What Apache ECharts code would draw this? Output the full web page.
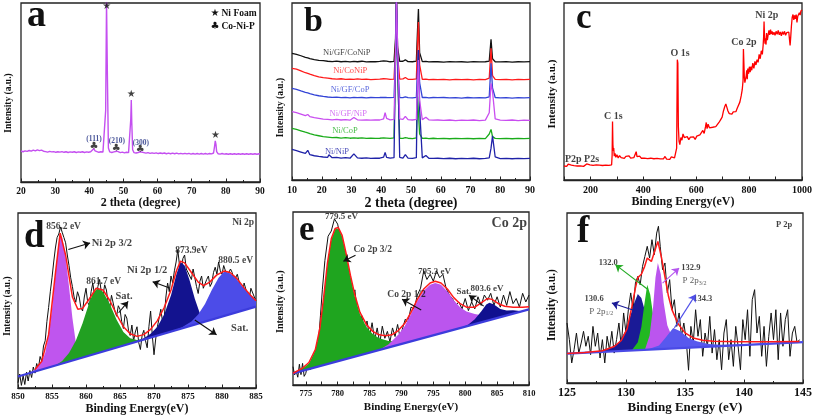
<!DOCTYPE html>
<html><head><meta charset="utf-8">
<script src="https://cdn.jsdelivr.net/npm/echarts@6/dist/echarts.min.js"></script>
<style>html,body{margin:0;padding:0;background:#fff}#c{width:813px;height:417px}</style>
</head><body><div id="c"></div>
<script>
// ================= DATA =================
// Panel a: XRD of Co-Ni-P on Ni foam
var aXrd = [[20,17.3],[20.6,16.9],[21.2,17.4],[21.8,17.1],[22.4,17.6],[23,17.2],[23.6,17.8],[24.2,17.4],[24.8,17.9],[25.4,17.5],[26,17.8],[26.6,17.2],[27.2,17.0],[27.8,16.7],[28.4,17.1],[29,16.8],[29.6,17.0],[30.2,16.6],[30.8,16.9],[31.4,16.7],[32,17.0],[32.6,16.6],[33.2,16.9],[33.8,16.5],[34.4,16.8],[35,16.6],[35.6,16.9],[36.2,16.5],[36.8,16.8],[37.4,16.6],[38,16.9],[38.6,16.5],[39.2,16.8],[39.8,16.6],[40.4,16.9],[40.9,17.3],[41.3,18.6],[41.7,17.4],[42.2,16.8],[42.8,16.6],[43.4,16.9],[44,16.7],[44.5,17.3],[44.8,40],[45.05,101],[45.3,60],[45.6,19],[46,16.8],[46.6,16.5],[47.2,16.8],[47.7,16.6],[48.1,17.2],[48.5,16.6],[49.1,16.4],[49.7,16.7],[50.3,16.3],[50.9,16.6],[51.5,16.4],[51.9,17.2],[52.15,35],[52.3,45.8],[52.45,33],[52.7,18],[53.1,16.4],[53.7,16.2],[54.3,16.5],[54.9,16.9],[55.4,16.2],[56,16.4],[56.6,16.1],[57.2,16.4],[57.8,16.0],[58.4,16.3],[59,16.0],[59.6,16.3],[60.2,15.9],[60.8,16.2],[61.4,15.9],[62,16.2],[62.6,15.8],[63.2,16.1],[63.8,15.8],[64.4,16.1],[65,15.8],[65.6,16.1],[66.2,15.7],[66.8,16.0],[67.4,15.7],[68,16.0],[68.6,15.7],[69.2,16.0],[69.8,15.6],[70.4,15.9],[71,15.6],[71.6,15.9],[72.2,15.6],[72.8,15.9],[73.4,15.6],[74,15.9],[74.6,15.6],[75.2,15.9],[75.8,15.7],[76.4,16.2],[76.7,20],[76.9,23],[77.1,21],[77.3,17],[77.7,15.8],[78.3,15.6],[78.9,15.9],[79.5,15.6],[80.1,15.8],[80.7,15.5],[81.3,15.8],[81.9,15.5],[82.5,15.8],[83.1,15.5],[83.7,15.8],[84.3,15.5],[84.9,15.8],[85.5,15.5],[86.1,15.8],[86.7,15.5],[87.3,15.8],[87.9,15.5],[88.5,15.8],[89.1,15.5],[89.7,15.8],[90,15.6]];
var aStars = [[45.1,98],[52.3,48.8],[76.95,26]];
var aClubs = [[41.4,19.8],[47.9,19.0],[54.9,18.0]];
var aPlanes = [[41.4,23.9,'(111)'],[48.1,22.9,'(210)'],[55.1,21.6,'(300)']];
var aLegend = ['Ni Foam','Co-Ni-P'];

// Panel b: six stacked XRD patterns (shared 2-theta grid)
var bTheta = [10,11.5,13,14.5,15.3,16,17.5,19,20.5,22,22.4,23.5,25,26.5,28,29.5,30.8,32,33.5,35,36.5,38,39.5,40.8,41.3,41.8,43,44.3,44.8,45.1,45.5,46.2,47.3,48.1,49,50.5,51.8,52.2,52.5,52.9,53.8,55,56,57.5,59,61,63,65,67,69,71,73,75,76.3,76.9,77.4,78.3,80,82,84,86,88,90];
var bNiGFCoNiP = [71.6,71.0,70.2,69.3,69.0,68.6,68.0,67.6,67.4,67.1,67.3,66.9,67.2,66.8,67.0,66.7,67.0,66.8,67.1,66.7,66.9,66.8,67.0,67.3,68.3,67.2,66.8,67.0,80,102,75,67.0,67.1,67.9,66.9,66.8,67.2,85,96.6,72,66.9,67.0,66.7,66.9,66.8,66.6,66.9,66.7,66.8,66.6,66.9,66.7,66.8,67.2,79.5,68.5,66.8,66.7,66.9,66.6,66.8,66.7,66.9];
var bNiCoNiP = [63.1,62.6,61.6,60.6,60.2,59.8,59.0,58.3,57.8,57.5,57.3,57.2,57.0,57.2,56.8,57.0,56.9,57.1,56.8,57.0,56.7,56.9,57.0,57.2,58.2,57.1,56.8,57.0,75,102,70,57.0,57.1,57.9,56.9,56.8,57.1,78,89.3,65,56.9,57.0,56.7,56.9,56.7,56.9,56.6,56.8,56.7,56.9,56.6,56.8,56.7,57.5,74.4,59,56.8,56.7,56.9,56.6,56.8,56.7,56.8];
var bNiGFCoP = [51.8,51.2,50.3,49.5,49.2,48.8,48.1,47.6,47.2,46.9,47.0,46.7,46.8,46.5,46.7,46.4,46.7,46.5,46.6,46.4,46.6,46.5,46.6,46.7,47.4,46.6,46.5,46.7,70,102,65,46.6,46.5,47.0,46.5,46.4,46.7,62,73.4,55,46.6,46.7,46.4,46.6,46.5,46.6,46.4,46.5,46.3,46.6,46.4,46.5,46.4,47.0,65.9,52,46.6,46.4,46.5,46.3,46.5,46.4,46.5];
var bNiGFNiP = [38.6,38.0,37.2,36.4,37.0,35.8,35.2,34.8,34.4,34.2,34.6,34.0,34.2,33.9,34.1,33.8,35.3,34.0,33.8,34.0,33.8,34.0,33.9,34.6,38.0,34.8,34.0,34.3,70,103,75,34.5,34.2,36.0,34.1,33.9,34.2,55,67.8,45,34.1,35.5,34.0,33.8,33.9,33.7,33.9,33.6,33.8,33.7,33.9,33.6,33.8,38,54.6,50,34.5,33.8,33.7,33.9,33.6,33.8,33.7];
var bNiCoP = [29.2,28.6,27.8,27.0,26.6,26.2,25.5,25.0,24.5,24.2,24.1,23.9,24.0,23.7,23.9,23.6,23.8,23.6,23.8,23.5,23.7,23.5,23.6,23.8,24.6,23.7,23.5,23.8,70,102,60,23.6,23.5,24.0,23.6,23.4,23.8,47.1,38,26,23.5,23.7,23.4,23.6,23.4,23.5,23.3,23.5,23.4,23.5,23.3,23.5,23.4,26,28.6,24.5,23.5,23.4,23.5,23.3,23.5,23.4,23.5];
var bNiNiP = [17.3,16.6,15.8,15.0,16.8,14.3,13.7,13.3,13.0,12.8,14.3,12.6,12.8,12.4,12.6,12.3,14.8,12.5,12.3,12.5,12.2,12.4,12.3,12.9,15.5,12.8,12.3,12.6,70,102,70,12.8,12.4,14.3,12.4,12.2,12.6,60,73.4,40,12.5,13.8,12.3,12.2,12.3,12.1,12.3,12.0,12.2,12.1,12.3,12.0,12.2,12.5,18,24.9,13,12.1,12.2,12.0,12.2,12.1,12.2];
var bNames = ['Ni/GF/CoNiP','Ni/CoNiP','Ni/GF/CoP','Ni/GF/NiP','Ni/CoP','Ni/NiP'];
var bLabelPos = [[28.4,71.9],[29.6,61.6],[29.5,50.8],[28.9,37.7],[27.8,27.9],[25.1,16.0]];

// Panel c: XPS survey
var cSurvey = [[100,7.9],[105,8.6],[110,7.7],[116,8.9],[122,7.8],[128,8.4],[133,9.3],[138,8.1],[144,8.7],[150,7.9],[156,8.5],[162,8.0],[168,8.8],[174,7.7],[180,8.4],[186,9.1],[192,8.0],[198,8.6],[204,7.8],[210,8.3],[216,7.6],[222,8.5],[228,7.9],[234,8.4],[240,7.6],[246,8.2],[252,7.8],[258,8.4],[264,7.7],[270,8.3],[276,7.9],[280,8.5],[282,14],[283.5,33],[285,20],[286.5,16.5],[288,18],[290,13.5],[293,15],[296,12.8],[300,14.2],[305,12.5],[310,13.8],[316,12.6],[322,13.5],[328,12.2],[334,13.4],[340,12.7],[346,13.6],[352,12.4],[358,13.3],[364,12.6],[370,13.4],[373,16],[376,13.2],[380,12.6],[386,13.5],[392,12.3],[398,13.1],[404,12.4],[410,13.3],[416,12.1],[422,13.0],[428,12.3],[434,13.2],[440,12.0],[446,12.9],[452,12.2],[458,13.1],[464,11.9],[470,12.8],[476,12.0],[482,13.3],[488,11.8],[494,12.6],[500,11.7],[506,13.0],[512,11.9],[518,12.5],[523,12.2],[526,18],[528.5,68],[530.5,66],[532.5,30],[535,22],[538,20],[542,24],[546,22.5],[550,26],[555,24],[560,23],[566,24.5],[572,22.8],[578,24.2],[584,23.2],[590,24.4],[596,22.9],[602,24.8],[608,24.2],[614,25.5],[620,26.5],[625,28],[630,26.3],[635,30],[638,32.5],[641,29],[645,31.5],[650,29.5],[656,30.5],[662,29.8],[668,30.6],[674,30.2],[680,31],[686,32.5],[692,34],[698,35.5],[703,39],[708,41.5],[712,43],[716,41],[720,39],[725,37.5],[730,38.6],[735,37.2],[740,38.5],[745,39.3],[750,38.6],[755,40.5],[760,41.5],[765,44],[770,47.5],[774,51],[777,56],[778.5,74],[780,73],[782,58],[784,55],[787,54],[789,59],[791,62],[793,57],[795,63],[798,60],[801,64],[804,61],[807,64],[810,62],[814,66],[818,63],[822,67],[826,65],[830,68],[834,66.5],[838,71],[842,68.5],[846,73],[850,71],[853,76],[855,81],[856.5,89.5],[858,82],[860,77],[862,80],[864,76.5],[866,83],[869,79],[872,82],[875,84.5],[878,82],[881,85],[884,82.5],[887,84],[890,82],[894,83.5],[898,81.8],[902,84],[906,82.3],[910,84.5],[914,82],[918,83.6],[922,81.5],[926,83.8],[930,82.2],[934,84],[938,81.8],[942,83.2],[946,82.5],[950,83.6],[953,79],[955,76],[957,80],[960,87],[963,92],[966,93.5],[969,90.5],[972,93],[975,91],[978,93.5],[981,89],[984,92.5],[987,93],[990,94.5],[993,93.2],[996,95.5],[1000,96]];
var cLabels = [[168,11.7,'P2p P2s'],[286.5,36.2,'C 1s'],[538.6,71.6,'O 1s'],[780.6,77.6,'Co 2p'],[866.6,92.7,'Ni 2p']];

// Panel d: Ni 2p
var dRaw = [[850,3],[850.25,8],[850.5,1.5],[850.75,7],[851,2],[851.25,9],[851.5,4],[851.75,10],[852,6],[852.25,12],[852.5,8.5],[852.75,14],[853,11],[853.25,18],[853.5,15],[853.75,24],[854,27],[854.25,38],[854.5,46],[854.75,55],[855,63],[855.25,72],[855.5,80],[855.75,86],[856,88],[856.25,92],[856.5,89],[856.75,86],[857,83],[857.25,76],[857.5,70],[857.75,63],[858,58],[858.25,52],[858.5,49],[858.75,55],[859,52],[859.25,46],[859.5,44],[859.75,52],[860,57],[860.25,49],[860.5,47],[860.75,55],[861,60],[861.25,53],[861.5,51],[861.75,58],[862,62],[862.25,55],[862.5,53],[862.75,59],[863,56],[863.25,49],[863.5,46],[863.75,53],[864,52],[864.25,44],[864.5,41],[864.75,47],[865,45],[865.25,38],[865.5,34],[865.75,42],[866,40],[866.25,33],[866.5,30],[866.75,36],[867,27],[867.25,32],[867.5,35],[867.75,26],[868,22],[868.25,30],[868.5,33],[868.75,27],[869,23],[869.25,35],[869.5,44],[869.75,30],[870,19],[870.25,28],[870.5,35],[870.75,40],[871,45],[871.25,38],[871.5,40],[871.75,52],[872,60],[872.25,55],[872.5,64],[872.75,60],[873,67],[873.25,72],[873.5,79],[873.75,70],[874,67],[874.25,74],[874.5,76],[874.75,68],[875,69],[875.25,64],[875.5,62],[875.75,68],[876,67],[876.25,58],[876.5,54],[876.75,61],[877,64],[877.25,57],[877.5,56],[877.75,62],[878,64],[878.25,58],[878.5,60],[878.75,66],[879,69],[879.25,65],[879.5,72],[879.75,67],[880,65],[880.25,70],[880.5,70],[880.75,64],[881,63],[881.25,68],[881.5,66],[881.75,61],[882,60],[882.25,65],[882.5,64],[882.75,57],[883,54],[883.25,60],[883.5,60],[883.75,53],[884,51],[884.25,57],[884.5,58],[884.75,52],[885,50]];
var dBaseline = [[850,6.6],[885,46.5]];
var dPeak856 = [[851.5,8.3],[852.5,10.5],[853.5,15],[854,20],[854.5,30],[855,45],[855.5,65],[856,83],[856.2,88],[856.5,86],[857,75],[857.5,58],[858,40],[858.5,26],[859,19.5],[859.5,17.4]];
var dPeak861 = [[855.5,12.9],[856.5,15.5],[857.5,20],[858.5,27],[859.5,37],[860.5,49],[861,54],[861.7,57],[862.5,55],[863.5,48],[864.5,39],[865.5,32],[866.5,28.5],[867.5,27.5],[868.5,28],[869,28.3]];
var dPeak874 = [[866.5,25.5],[867.5,26.8],[868.5,28.5],[869.5,31],[870.5,35],[871.5,42],[872.5,53],[873.3,65],[873.9,72],[874.5,70],[875.2,62],[876,51],[876.8,42],[877.5,39],[878.2,38.7]];
var dPeak880 = [[872.5,32.2],[874,34.5],[875.5,38],[876.5,42],[877.5,48],[878.5,56],[879.5,63],[880.3,66.5],[881,66],[882,63],[883,58],[884,54],[885,50.3],[885,46.5]];
var dFit = [[852.5,10.6],[853.5,15.3],[854.5,30.5],[855.5,65.5],[856.2,88.5],[857,76],[858,52],[858.8,45],[859.5,45.5],[860.5,51],[861.5,57],[862.5,56],[863.5,50],[864.5,42],[865.5,35],[866.5,31],[867.5,29.5],[868.5,30.5],[869.5,33.5],[870.5,38.5],[871.5,46],[872.5,56],[873.3,67],[873.9,72.5],[874.5,71.5],[875.5,66],[876.5,60.5],[877.3,58.5],[878.2,60.5],[879.2,64.5],[880.3,66.8],[881.2,66],[882.2,62.5],[883.2,57.5],[884.2,53],[885,49.8]];
var dLabels = [[856.7,92.4,'856.2 eV',9.5],[863.8,82.5,'Ni 2p 3/2',10.5],[862.6,61.1,'861.7 eV',9.5],[865.6,52.2,'Sat.',10.5],[869.0,67.0,'Ni 2p 1/2',10.5],[875.5,78.4,'873.9eV',9.5],[882.0,72.7,'880.5 eV',9.5],[882.6,34.2,'Sat.',10.5],[883.1,94.3,'Ni 2p',9.5]];
var dArrows = [[857.4,79.1,860.6,82.9],[864.8,43.0,866.2,49.5],[872.3,57.1,869.8,60.7],[876.0,38.9,879.2,30.4]];

// Panel e: Co 2p
var eRaw = [[773,10.6],[773.25,5.8],[773.5,8],[773.75,4.5],[774,12],[774.25,6],[774.5,12.5],[774.75,5],[775,6.7],[775.25,11],[775.5,12],[775.75,9],[776,15],[776.5,19],[777,25],[777.3,40],[777.6,55],[778,72],[778.5,86],[779,89],[779.5,96],[780,93],[780.5,84],[781,76],[781.5,68],[782,58],[782.3,49],[782.7,55],[783,44],[783.4,33],[783.8,40],[784.2,30],[784.6,37],[785,28],[785.4,36],[785.8,26],[786.2,33],[786.6,24],[787,34],[787.4,27],[787.8,31],[788.2,25],[788.6,33],[789,28],[789.4,35],[789.8,27],[790.2,33],[790.6,38],[791,36],[791.5,45],[792,44],[792.5,52],[793,56],[793.5,66],[794,61],[794.5,64],[795,60],[795.5,66],[796,62],[796.5,64],[797,56],[797.5,52],[798,50],[798.5,46],[799,48],[799.5,44],[800,50],[800.5,43],[801,48],[801.5,44],[802,51],[802.5,46],[803,52],[803.5,49],[804,53],[804.5,46],[805,51],[805.5,45],[806,52],[806.5,46],[807,54],[807.5,47],[808,50],[808.5,45],[809,53],[809.5,48],[810,52]];
var eBaseline = [[773,6.7],[810,43.7]];
var ePeak780 = [[773,6.7],[774.5,9.5],[775.5,12.5],[776.5,20],[777.2,32],[777.8,50],[778.4,70],[779,84],[779.6,90],[780.1,90.5],[780.7,86],[781.3,76],[782,63],[782.7,51],[783.5,41],[784.5,33.5],[785.5,29.5],[786.5,27],[788,25.5],[790,25.5],[792,26],[795,28.7]];
var ePeak795 = [[786.5,20.2],[788,23.5],[789.5,29],[790.5,34],[791.5,41],[792.5,48.5],[793.5,54.5],[794.5,58],[795.3,59],[796.2,58],[797.2,54],[798.2,49],[799.2,45],[800.2,42.5],[801.5,41],[803,40],[805,39.5],[806.5,40.2]];
var ePeak804 = [[799.5,33.2],[800.5,35],[801.5,38],[802.5,42.5],[803.3,46.5],[803.8,47.5],[804.5,46.5],[805.5,44],[806.5,43],[807.5,43.2],[809,42.7]];
var eFit = [[773,6.8],[774.5,9.8],[775.5,13],[776.5,20.5],[777.2,32.5],[777.8,50.5],[778.4,70.5],[779,84.5],[779.6,90.5],[780.1,91],[780.7,86.5],[781.3,76.5],[782,63.5],[782.7,52],[783.5,42],[784.5,35],[785.5,31],[786.5,29],[787.5,28.5],[788.5,29],[789.5,31.5],[790.5,35.5],[791.5,42],[792.5,49.5],[793.5,55.5],[794.5,59],[795.3,60],[796.2,59],[797.2,55.5],[798.2,50.5],[799.2,47],[800.2,45],[801.5,45],[802.5,47.5],[803.5,50],[804.2,49.5],[805.2,47],[806.2,45.5],[807.5,45],[809,45],[810,45.3]];
var eLabels = [[780.6,97.1,'779.5 eV',9],[806.9,93.3,'Co 2p',14],[785.5,78.5,'Co 2p 3/2',9.5],[795.2,65.4,'795.3 eV',9],[790.8,52.3,'Co 2p 1/2',9.5],[799.8,53.8,'Sat.',9],[803.4,55.8,'803.6 eV',9]];
var eArrows = [[782.8,75.0,780.9,71.5],[793.1,43.3,790.1,49.6],[802.9,45.6,800.6,51.9]];
var eTicks = [775,780,785,790,795,800,805,810];

// Panel f: P 2p
var fRaw = [[125,35.3],[125.2,25.5],[125.4,11.8],[125.6,19.6],[125.8,29.4],[126,17.6],[126.2,23.5],[126.4,30.4],[126.6,21.6],[126.8,27.5],[127,16.7],[127.2,33.3],[127.4,21.6],[127.6,29.4],[127.8,14.7],[128,25.5],[128.2,11.8],[128.4,27.5],[128.6,19.6],[128.8,30.4],[129,17.6],[129.2,25.5],[129.4,35.3],[129.6,21.6],[129.8,41.2],[130,29.4],[130.2,43.1],[130.4,53],[130.6,43.1],[130.8,58.8],[131,62.7],[131.2,57.8],[131.4,68.6],[131.6,74.5],[131.8,80.4],[132,73.5],[132.2,84.3],[132.4,75.5],[132.6,88.2],[132.75,92.2],[132.9,80.4],[133.1,66.7],[133.3,70.6],[133.5,53],[133.7,60.8],[133.9,43.1],[134.1,49],[134.3,33.3],[134.5,41.2],[134.7,27.5],[134.9,35.3],[135.1,25.5],[135.3,7.5],[135.5,33.3],[135.7,23.5],[135.9,43.1],[136.1,27.5],[136.3,37.3],[136.5,15.7],[136.7,29.4],[136.9,21.6],[137.1,39.2],[137.3,17.6],[137.5,31.4],[137.7,13.7],[137.9,25.5],[138.1,7.8],[138.3,29.4],[138.5,37.3],[138.7,13.7],[138.9,25.5],[139.1,9.8],[139.3,33.3],[139.5,21.6],[139.7,7.8],[139.9,37.3],[140.1,25.5],[140.3,43.1],[140.5,15.7],[140.7,49],[140.9,54.9],[141.1,29.4],[141.3,39.2],[141.5,15.7],[141.7,33.3],[141.9,9.8],[142.1,27.5],[142.3,41.2],[142.5,25.5],[142.7,43.1],[142.9,13.7],[143.1,41.2],[143.3,21.6],[143.5,37.3],[143.7,43.1],[143.9,15.7],[144.1,29.4],[144.3,33.3],[144.5,23.5],[144.7,25.5]];
var fBaseline = [[125,17.3],[145,24.1]];
var fPeak1306 = [[127,18.0],[128,19.2],[128.8,21],[129.4,24],[129.9,30],[130.3,38],[130.7,47],[131,52.4],[131.3,50],[131.7,40],[132.1,31],[132.5,25],[133,21.5],[134,20.4]];
var fPeak1320 = [[130.5,19.2],[131,24],[131.3,33],[131.55,46],[131.8,57.8],[132.05,52],[132.3,40],[132.6,30],[133,24],[133.5,21.5],[134.5,20.5]];
var fPeak1329 = [[131.6,19.5],[132,28],[132.3,45],[132.5,62],[132.7,70.6],[132.95,64],[133.2,47],[133.5,34],[133.9,27],[134.4,23],[135,21],[135.5,20.9]];
var fPeak1343 = [[131,19.3],[132,20.2],[132.8,22],[133.4,27],[134,32.4],[134.6,30.5],[135.3,26.5],[136,24.5],[137,23],[138,22.5],[140,22.6],[142,23.4],[144.6,24.0]];
var fFit = [[125,17.4],[126.5,17.9],[128,19],[129,21.5],[129.6,25],[130.1,32],[130.5,45],[130.8,56],[131,62],[131.3,64],[131.55,68],[131.8,73.5],[132.15,71.5],[132.45,78],[132.7,83.3],[133,74],[133.3,62.5],[133.6,51],[133.9,43],[134.4,35],[135,29.5],[135.7,26.5],[136.5,25.2],[137.4,24.5],[139.6,24.2],[142,24.3],[144.7,24.4]];
var fLabels = [[128.5,71,'132.0'],[135.5,67.6,'132.9'],[127.3,49.4,'130.6'],[136.5,49.6,'134.3'],[143.4,93.1,'P 2p']];
var fSubLabels = [[135.8,60.2,'P 2p','3/2'],[127.9,42.2,'P 2p','1/2']];
var fArrows = [[131.8,55.3,129.1,69.6,'#22aa22'],[133.1,58.8,134.5,67.6,'#b455ee'],[130.9,42.2,128.8,47.0,'#1a1a96'],[134.1,32.4,135.9,52.0,'#4f4fe8']];

// ================= CHART =================
var FONT = '"Liberation Serif","Times New Roman",serif';
var chart = echarts.init(document.getElementById('c'), null, {renderer:'canvas'});

function zipXY(xs, ys){ return xs.map(function(x,i){ return [x, ys[i]]; }); }

function lineS(gi, data, color, w, z){
  return {type:'line', xAxisIndex:gi, yAxisIndex:gi, data:data, symbol:'none', showSymbol:false,
    lineStyle:{color:color, width:w}, z:z||3, silent:true, clip:true};
}
function polyS(gi, pts, color, z){
  return {type:'custom', coordinateSystem:'cartesian2d', xAxisIndex:gi, yAxisIndex:gi, data:pts, encode:{x:0,y:1},
    z:z||2, silent:true, clip:true,
    renderItem:function(params, api){
      if (params.context.rendered) return;
      params.context.rendered = true;
      var p = pts.map(function(d){ return api.coord(d); });
      return {type:'polygon', shape:{points:p}, style:{fill:color, stroke:null}};
    }};
}
function textS(gi, items, z){
  return {type:'scatter', xAxisIndex:gi, yAxisIndex:gi, symbolSize:0, z:z||6, silent:true,
    itemStyle:{color:'transparent'},
    data:items.map(function(it){
      return {value:[it.x, it.y], label:{show:true, position:'inside', formatter:it.t,
        color:it.c||'#111', fontFamily:it.f||FONT, fontWeight:it.w||'bold', fontSize:it.s||9.5, rich:it.rich}};
    })};
}
function arrowS(gi, arr){
  return {type:'lines', coordinateSystem:'cartesian2d', xAxisIndex:gi, yAxisIndex:gi, z:7, silent:true,
    symbol:['none','arrow'], symbolSize:[0,7],
    lineStyle:{opacity:1, width:1.1},
    data:arr.map(function(a){ return {coords:[[a[0],a[1]],[a[2],a[3]]], lineStyle:{color:a[4]||'#111', width:1.1, opacity:1}}; })};
}

var grids = [
  {left:21, top:3, width:239, height:179},
  {left:292, top:3, width:238, height:177},
  {left:564, top:3, width:238, height:177},
  {left:18, top:213, width:238, height:175},
  {left:293, top:212, width:236, height:173},
  {left:567, top:213, width:236, height:170}
].map(function(g){ g.show=true; g.borderColor='#222'; g.borderWidth=1.3; g.backgroundColor='transparent'; g.containLabel=false; g.outerBoundsMode='none'; return g; });

function mkX(gi, o){
  var ax = {type:'value', gridIndex:gi, min:o.min, max:o.max, name:o.name, nameLocation:'middle', nameGap:o.gap,
    nameTextStyle:{fontFamily:FONT, fontWeight:'bold', fontSize:o.ns, color:'#111'},
    axisLine:{show:true, onZero:false, lineStyle:{color:'#222', width:1.3}},
    axisTick:{show:true, inside:true, length:3.5, lineStyle:{color:'#222', width:1}},
    minorTick:{show:o.minor!==false, splitNumber:2, length:2, lineStyle:{color:'#222', width:1}},
    axisLabel:{show:true, margin:o.margin, fontFamily:FONT, fontWeight:'bold', fontSize:o.ls, color:'#111', hideOverlap:false,
      formatter:function(v){ return String(v); }},
    splitLine:{show:false}, minorSplitLine:{show:false}};
  if (o.interval) ax.interval = o.interval;
  if (o.labelVals) ax.axisLabel.customValues = o.labelVals;
  if (o.tickVals) ax.axisTick.customValues = o.tickVals;
  return ax;
}
var eTickVals = [];
eTicks.forEach(function(v, i){ eTickVals.push(v); if (i < eTicks.length-1) eTickVals.push(v+2.5); });

var xAxes = [
  mkX(0,{min:20,max:90,interval:10,name:'2 theta (degree)',gap:12,ns:12,ls:9.5,margin:4.5}),
  mkX(1,{min:10,max:90,interval:10,name:'2 theta (degree)',gap:12,ns:14,ls:10,margin:5}),
  mkX(2,{min:100,max:1000,interval:100,labelVals:[200,400,600,800,1000],minor:false,name:'Binding Energy(eV)',gap:13,ns:12,ls:10,margin:5}),
  mkX(3,{min:850,max:885,interval:5,name:'Binding Energy(eV)',gap:15,ns:12,ls:9,margin:4.5}),
  mkX(4,{min:773,max:810,labelVals:eTicks,tickVals:eTickVals,minor:false,name:'Binding Energy(eV)',gap:17,ns:11,ls:8.5,margin:4}),
  mkX(5,{min:125,max:145,interval:5,name:'Binding Energy (eV)',gap:18,ns:13,ls:12,margin:4})
];
var yAxes = [0,1,2,3,4,5].map(function(i){ return {type:'value', gridIndex:i, min:0, max:100, show:false}; });

var series = [];
// ---- a ----
series.push(lineS(0, aXrd, '#c44ff0', 1.4, 3));
series.push(textS(0, aStars.map(function(p){ return {x:p[0], y:p[1], t:'★', s:10, f:'DejaVu Sans', w:'normal'}; })));
series.push(textS(0, aClubs.map(function(p){ return {x:p[0], y:p[1], t:'♣', s:10, f:'DejaVu Sans', w:'normal'}; })));
series.push(textS(0, aPlanes.map(function(p){ return {x:p[0], y:p[1], t:p[2], s:7.5, c:'#1c2a80'}; })));
// ---- b ----
var bSeries = [bNiGFCoNiP, bNiCoNiP, bNiGFCoP, bNiGFNiP, bNiCoP, bNiNiP];
var bColors = ['#111111','#ff1a1a','#3344d6','#c94ef0','#1aac1a','#1f22a8'];
var bOrder = [0,1,4,2,5,3];
bOrder.forEach(function(i){ series.push(lineS(1, zipXY(bTheta, bSeries[i]), bColors[i], 1.3, 3)); });
series.push(textS(1, bNames.map(function(n,i){ return {x:bLabelPos[i][0], y:bLabelPos[i][1], t:n, s:8.5, c:bColors[i], w:'normal'}; })));
// ---- c ----
series.push(lineS(2, cSurvey, '#ff0000', 1.3, 3));
series.push(textS(2, cLabels.map(function(p){ return {x:p[0], y:p[1], t:p[2], s:10}; })));
// ---- d ----
series.push(lineS(3, dRaw, '#111', 1, 1));
series.push(polyS(3, dPeak856, '#bf55ee', 2));
series.push(polyS(3, dPeak861, '#22a022', 2));
series.push(polyS(3, dPeak874, '#13138f', 2));
series.push(polyS(3, dPeak880, '#4c4ce8', 2));
series.push(lineS(3, dBaseline, '#3c3cdc', 2.2, 4));
series.push(lineS(3, dFit, '#ff1a1a', 1.5, 5));
series.push(textS(3, dLabels.map(function(p){ return {x:p[0], y:p[1], t:p[2], s:p[3]}; })));
series.push(arrowS(3, dArrows));
// ---- e ----
series.push(lineS(4, eRaw, '#111', 1, 1));
series.push(polyS(4, ePeak780, '#1fa51f', 2));
series.push(polyS(4, ePeak795, '#bb55ee', 2));
series.push(polyS(4, ePeak804, '#10108f', 2));
series.push(lineS(4, eBaseline, '#3c3cdc', 2.2, 4));
series.push(lineS(4, eFit, '#ff1a1a', 1.5, 5));
series.push(textS(4, eLabels.map(function(p){ return {x:p[0], y:p[1], t:p[2], s:p[3]}; })));
series.push(arrowS(4, eArrows));
// ---- f ----
series.push(lineS(5, fRaw, '#111', 1, 1));
series.push(polyS(5, fPeak1306, '#1a1a96', 2));
series.push(polyS(5, fPeak1320, '#22b822', 2));
series.push(polyS(5, fPeak1329, '#bb55ee', 2));
series.push(polyS(5, fPeak1343, '#5858ee', 2));
series.push(lineS(5, fBaseline, '#4a4ae6', 2.2, 4));
series.push(lineS(5, fFit, '#ff1a1a', 1.5, 5));
series.push(textS(5, fLabels.map(function(p){ return {x:p[0], y:p[1], t:p[2], s:8.5}; })));
series.push(textS(5, fSubLabels.map(function(p){ return {x:p[0], y:p[1], t:'{a|'+p[2]+'}{b|'+p[3]+'}', w:'normal',
  rich:{a:{fontFamily:FONT, fontSize:9, color:'#333'}, b:{fontFamily:FONT, fontSize:6, color:'#333', padding:[5,0,0,0]}}}; })));
series.push(arrowS(5, fArrows));

function gtext(x, y, txt, size, opts){
  opts = opts || {};
  return {type:'text', x:x, y:y, rotation:opts.rot||0, silent:true, z:100,
    style:{text:txt, fontFamily:opts.f||FONT, fontWeight:opts.w||'bold', fontSize:size, fill:opts.c||'#111',
      align:opts.align||'left', verticalAlign:opts.va||'top'}};
}
var R = Math.PI/2;
var graphics = [
  gtext(27, -2.5, 'a', 38), gtext(304, 4.8, 'b', 34), gtext(576, 1.4, 'c', 35),
  gtext(24, 219, 'd', 37), gtext(299, 213.4, 'e', 35), gtext(577, 214, 'f', 37),
  gtext(8.3, 103, 'Intensity (a.u.)', 9.5, {rot:R, align:'center', va:'middle'}),
  gtext(280.5, 107.5, 'Intensity (a.u.)', 9.5, {rot:R, align:'center', va:'middle'}),
  gtext(552, 94, 'Intensity (a.u.)', 11, {rot:R, align:'center', va:'middle'}),
  gtext(8, 306, 'Intensity (a.u.)', 9.5, {rot:R, align:'center', va:'middle'}),
  gtext(280.5, 301.7, 'Intensity (a.u.)', 10, {rot:R, align:'center', va:'middle'}),
  gtext(552.5, 305, 'Intensity (a.u.)', 11.5, {rot:R, align:'center', va:'middle'}),
  gtext(215, 13.3, '★', 10, {f:'DejaVu Sans', w:'normal', align:'center', va:'middle'}),
  gtext(221.5, 13.3, aLegend[0], 9.5, {va:'middle'}),
  gtext(215, 26.7, '♣', 10, {f:'DejaVu Sans', w:'normal', align:'center', va:'middle'}),
  gtext(221.5, 26.7, aLegend[1], 9.5, {va:'middle'})
];

chart.setOption({
  animation:false,
  backgroundColor:'#fff',
  grid:grids, xAxis:xAxes, yAxis:yAxes, series:series, graphic:graphics
});
</script></body></html>
